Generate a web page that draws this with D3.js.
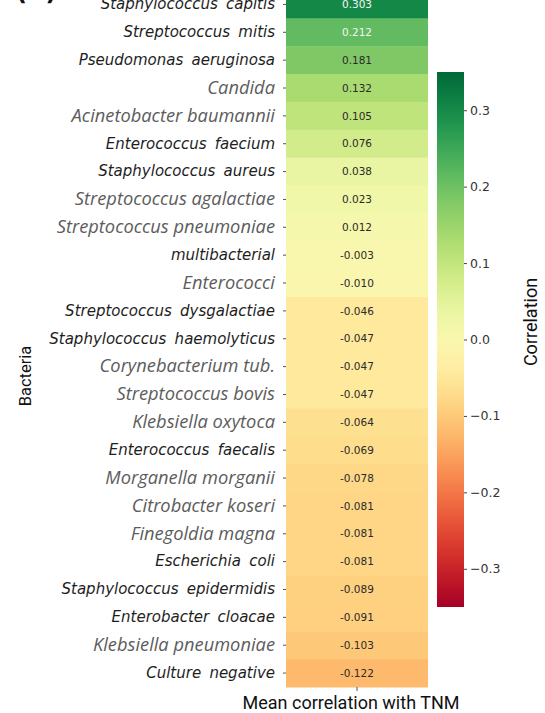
<!DOCTYPE html>
<html>
<head>
<meta charset="utf-8">
<script src="https://cdn.jsdelivr.net/npm/d3@7"></script>
<style>
  html, body { margin: 0; padding: 0; background: #fff; }
  svg { display: block; }
</style>
</head>
<body>
<svg id="chart" width="545" height="713"></svg>
<script>
// ---- data ----
const categories = [
  "Staphylococcus capitis", "Streptococcus mitis", "Pseudomonas aeruginosa", "Candida",
  "Acinetobacter baumannii", "Enterococcus faecium", "Staphylococcus aureus",
  "Streptococcus agalactiae", "Streptococcus pneumoniae", "multibacterial", "Enterococci",
  "Streptococcus dysgalactiae", "Staphylococcus haemolyticus", "Corynebacterium tub.",
  "Streptococcus bovis", "Klebsiella oxytoca", "Enterococcus faecalis", "Morganella morganii",
  "Citrobacter koseri", "Finegoldia magna", "Escherichia coli", "Staphylococcus epidermidis",
  "Enterobacter cloacae", "Klebsiella pneumoniae", "Culture negative"
];
const values = [
  0.303, 0.212, 0.181, 0.132, 0.105, 0.076, 0.038, 0.023, 0.012, -0.003, -0.010,
  -0.046, -0.047, -0.047, -0.047, -0.064, -0.069, -0.078, -0.081, -0.081, -0.081,
  -0.089, -0.091, -0.103, -0.122
];
const columns = ["Mean correlation with TNM"];
const colorbarTicks = [-0.3, -0.2, -0.1, 0.0, 0.1, 0.2, 0.3];
const colorDomain = [-0.35, 0.35];

// labels drawn in the alternate (grey) font
const altFontLabels = new Set([
  "Candida", "Acinetobacter baumannii", "Streptococcus agalactiae", "Streptococcus pneumoniae",
  "Enterococci", "Corynebacterium tub.", "Streptococcus bovis", "Klebsiella oxytoca",
  "Morganella morganii", "Citrobacter koseri", "Finegoldia magna", "Klebsiella pneumoniae"
]);

// ---- layout ----
const svg = d3.select("#chart");
const hm = { left: 286, right: 428, top: -9.5, bottom: 687 };
const cb = { left: 437, right: 464, top: 72, bottom: 607 };

const x = d3.scaleBand().domain(columns).range([hm.left, hm.right]);
const y = d3.scaleBand().domain(categories).range([hm.top, hm.bottom]);
const color = d3.scaleSequential(d3.interpolateRdYlGn).domain(colorDomain);

const rows = categories.map((c, i) => ({ name: c, value: values[i] }));

// cells
const cells = svg.append("g");
cells.selectAll("rect").data(rows).join("rect")
  .attr("x", x(columns[0]))
  .attr("y", d => y(d.name))
  .attr("width", x.bandwidth())
  .attr("height", y.bandwidth() + 0.5)
  .attr("fill", d => color(d.value));

cells.selectAll("text").data(rows).join("text")
  .attr("x", x(columns[0]) + x.bandwidth() / 2)
  .attr("y", d => y(d.name) + y.bandwidth() / 2)
  .attr("dy", "0.35em")
  .attr("text-anchor", "middle")
  .attr("font-family", "DejaVu Sans")
  .attr("font-size", 10.5)
  .attr("fill", d => d.value > 0.2 ? "#f4f4f4" : "#2b2b2b")
  .text(d => d.value.toFixed(3));

// y axis
const yAxis = svg.append("g")
  .attr("transform", `translate(${hm.left},0)`)
  .call(d3.axisLeft(y).tickSize(3).tickPadding(8));
yAxis.select(".domain").remove();
yAxis.selectAll(".tick line").attr("stroke", "#555");
yAxis.selectAll(".tick text").each(function(d) {
  const t = d3.select(this);
  if (altFontLabels.has(d)) {
    t.attr("font-family", "'Open Sans'").attr("font-style", "italic")
     .attr("font-size", 18.3).attr("fill", "#5c5c5c").style("word-spacing", "0px");
  } else {
    t.attr("font-family", "DejaVu Sans").attr("font-style", "oblique")
     .attr("font-size", 15).attr("fill", "#1e1e1e").style("word-spacing", "3.5px");
  }
});

// x axis (single tick, no label)
const xAxis = svg.append("g")
  .attr("transform", `translate(0,${hm.bottom})`)
  .call(d3.axisBottom(x).tickSize(4).tickFormat(""));
xAxis.select(".domain").remove();
xAxis.selectAll(".tick line").attr("stroke", "#555");

// axis titles
svg.append("text")
  .attr("x", 351).attr("y", 709)
  .attr("text-anchor", "middle")
  .attr("font-family", "Roboto").attr("font-size", 18).attr("fill", "#111")
  .text(columns[0]);

svg.append("text")
  .attr("transform", "translate(31,376) rotate(-90)")
  .attr("text-anchor", "middle")
  .attr("font-family", "Roboto").attr("font-size", 16.5).attr("fill", "#111")
  .text("Bacteria");

// colorbar
const cy = d3.scaleLinear().domain(colorDomain).range([cb.bottom, cb.top]);
const defs = svg.append("defs");
const grad = defs.append("linearGradient")
  .attr("id", "cbgrad").attr("x1", 0).attr("y1", 1).attr("x2", 0).attr("y2", 0);
d3.range(0, 1.0001, 0.05).forEach(t => {
  grad.append("stop").attr("offset", t)
    .attr("stop-color", color(colorDomain[0] + t * (colorDomain[1] - colorDomain[0])));
});
svg.append("rect")
  .attr("x", cb.left).attr("y", cb.top)
  .attr("width", cb.right - cb.left).attr("height", cb.bottom - cb.top)
  .attr("fill", "url(#cbgrad)");

const cAxis = svg.append("g")
  .attr("transform", `translate(${cb.right},0)`)
  .call(d3.axisRight(cy).tickValues(colorbarTicks).tickSize(3).tickPadding(3)
        .tickFormat(d3.format(".1f")));
cAxis.select(".domain").remove();
cAxis.selectAll(".tick line").attr("stroke", "#444");
cAxis.selectAll(".tick text")
  .attr("font-family", "DejaVu Sans").attr("font-size", 12.5).attr("fill", "#333");

svg.append("text")
  .attr("transform", "translate(537,322) rotate(-90)")
  .attr("text-anchor", "middle")
  .attr("font-family", "Roboto").attr("font-size", 18).attr("fill", "#111")
  .text("Correlation");

// panel letter (cropped at top)
svg.append("text")
  .attr("x", 16).attr("y", 0)
  .attr("font-family", "DejaVu Sans").attr("font-weight", "bold")
  .attr("font-size", 24).attr("fill", "#111")
  .text("(A)");
</script>
</body>
</html>
